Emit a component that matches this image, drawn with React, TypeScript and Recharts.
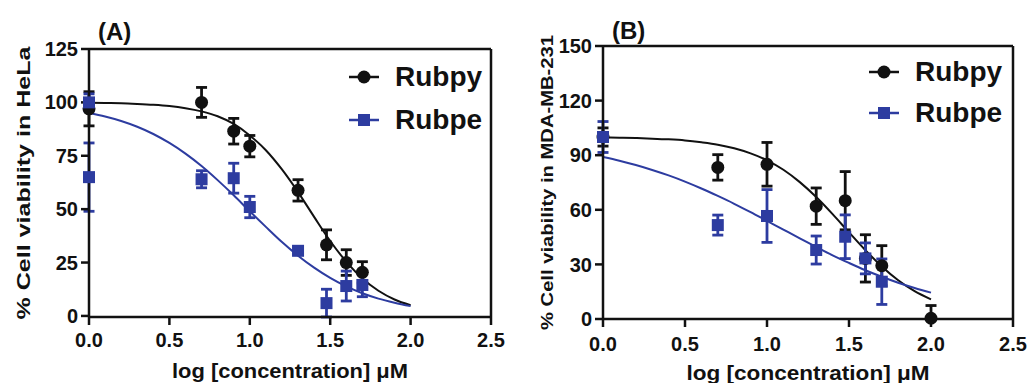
import React from 'react';
import { ComposedChart, Line, Scatter, XAxis, YAxis, ErrorBar, ReferenceLine, Legend } from 'recharts';

const BLUE = '#2d3ca0';
const BLACK = '#111111';
const FONT = "'Liberation Sans', Arial, Helvetica, sans-serif";

const seriesNames = ['Rubpy', 'Rubpe'];
const xTicks = [0, 0.5, 1.0, 1.5, 2.0, 2.5];
const yTicksA = [0, 25, 50, 75, 100, 125];
const yTicksB = [0, 30, 60, 90, 120, 150];

// fitted curve readings
const curveX = [0, 0.1, 0.2, 0.3, 0.4, 0.5, 0.6, 0.7, 0.8, 0.9, 1.0, 1.1, 1.2, 1.3, 1.4, 1.5, 1.6, 1.7, 1.8, 1.9, 2.0];
const fitRubpyA = [99.8, 99.7, 99.6, 99.3, 98.9, 98.3, 97.3, 95.8, 93.5, 89.9, 84.5, 77.6, 68.6, 58.0, 46.4, 35.1, 25.4, 17.5, 11.8, 7.7, 5.0];
const fitRubpeA = [95.0, 93.4, 91.3, 88.6, 85.2, 81.0, 76.0, 70.2, 63.6, 56.5, 49.0, 41.7, 34.6, 28.2, 22.6, 17.8, 13.8, 10.6, 8.1, 6.2, 4.6];
const fitRubpyB = [99.7, 99.6, 99.4, 99.1, 98.7, 98.1, 97.1, 95.8, 93.8, 91.0, 87.2, 82.0, 75.2, 67.0, 57.6, 47.6, 37.8, 28.9, 21.3, 15.3, 10.8];
const fitRubpeB = [89.0, 87.0, 84.6, 81.9, 78.9, 75.5, 71.7, 67.6, 63.3, 58.7, 53.9, 49.1, 44.3, 39.6, 35.0, 30.8, 26.8, 23.2, 19.9, 17.0, 14.5];

// measured points, panel A (HeLa)
const rubpyAX = [0, 0.7, 0.9, 1.0, 1.3, 1.477, 1.6, 1.7];
const rubpyAY = [97, 100, 86.5, 79.5, 58.8, 33.3, 25, 20.4];
const rubpyAErr = [8, 7, 6, 5, 5, 7, 6, 5];
const rubpeAX = [0, 0, 0.7, 0.9, 1.0, 1.3, 1.477, 1.6, 1.7];
const rubpeAY = [100, 65, 64, 64.5, 51, 30.5, 6, 14, 14.5];
const rubpeAErr = [4, 16, 4, 7, 5, 1.5, 6.5, 7, 5.5];

// measured points, panel B (MDA-MB-231)
const rubpyBX = [0, 0.7, 1.0, 1.3, 1.477, 1.6, 1.7, 2.0];
const rubpyBY = [100, 83.3, 85, 62, 65, 33.3, 29.3, 0.4];
const rubpyBErrLow = [5, 7, 12, 10, 16, 13, 11, 0.4];
const rubpyBErrHigh = [5, 7, 12, 10, 16, 13, 11, 7];
const rubpeBX = [0, 0.7, 1.0, 1.3, 1.477, 1.6, 1.7];
const rubpeBY = [100, 51.6, 56.6, 37.9, 45.2, 33.3, 20.5];
const rubpeBErr = [8.5, 5.5, 14.5, 7.7, 12, 8.5, 12.5];

const curve = (ys: number[]) => curveX.map((x, i) => ({ x, y: ys[i] }));
const pts = (xs: number[], ys: number[], lo: number[], hi?: number[]) =>
  xs.map((x, i) => ({ x, y: ys[i], err: hi ? [lo[i], hi[i]] : lo[i] }));

const CircleShape = (p: any) => <circle cx={p.cx} cy={p.cy} r={6.5} fill={BLACK} />;
const SquareShape = (p: any) => <rect x={p.cx - 6} y={p.cy - 6} width={12} height={12} fill={BLUE} />;

const tickStyle = { fill: BLACK, fontSize: 20, fontWeight: 700, fontFamily: FONT };

const yLabel = (text: string, dx: number, fontSize: number, len: number) => (props: any) => {
  const vb = props.viewBox;
  if (!vb) return null;
  const cx = vb.x + dx;
  const cy = vb.y + vb.height / 2;
  return (
    <text x={cx} y={cy} transform={`rotate(-90, ${cx}, ${cy})`} textAnchor="middle" dominantBaseline="central"
      textLength={len} lengthAdjust="spacingAndGlyphs"
      fill={BLACK} fontSize={fontSize} fontWeight={700} fontFamily={FONT}>{text}</text>
  );
};

const xLabel = (text: string, dy: number, len: number) => (props: any) => {
  const vb = props.viewBox;
  if (!vb) return null;
  return (
    <text x={vb.x + vb.width / 2} y={vb.y + dy} textAnchor="middle" textLength={len} lengthAdjust="spacingAndGlyphs"
      fill={BLACK} fontSize={20} fontWeight={700} fontFamily={FONT}>
      {text}
    </text>
  );
};

const legendContent = (rowH: number) => () => (
  <div style={{ fontFamily: FONT, fontWeight: 700, fontSize: 28, color: BLACK }}>
    {seriesNames.map((n, i) => (
      <div key={n} style={{ display: 'flex', alignItems: 'center', height: rowH }}>
        <svg width={32} height={16} style={{ marginRight: 15 }}>
          <line x1={1} y1={8} x2={31} y2={8} stroke={i === 0 ? BLACK : BLUE} strokeWidth={2.5} />
          {i === 0 ? <circle cx={16} cy={8} r={6.5} fill={BLACK} /> : <rect x={10} y={2} width={12} height={12} fill={BLUE} />}
        </svg>
        <span style={{ lineHeight: `${rowH}px` }}>{n}</span>
      </div>
    ))}
  </div>
);

const axisLine = { stroke: BLACK, strokeWidth: 2.5 };
const tickLine = { stroke: BLACK, strokeWidth: 2.5 };

export default function App() {
  return (
    <div style={{ position: 'absolute', left: 0, top: 0, width: 1029, height: 383, background: '#fff', overflow: 'hidden' }}>
      <div style={{ position: 'absolute', left: 0, top: 0 }}>
        <ComposedChart width={520} height={383} margin={{ top: 49, right: 29, left: 5, bottom: 5 }}>
          <XAxis type="number" dataKey="x" domain={[0, 2.5]} ticks={xTicks} tickFormatter={(v: number) => v.toFixed(1)}
            height={61} tick={tickStyle} tickSize={8} tickMargin={8} axisLine={axisLine} tickLine={tickLine}
            label={{ content: xLabel('log [concentration] μM', 61, 236) }} />
          <YAxis type="number" dataKey="y" domain={[0, 125]} ticks={yTicksA} width={84} tick={tickStyle} tickSize={8}
            tickMargin={3} axisLine={axisLine} tickLine={tickLine} interval={0}
            label={{ content: yLabel('% Cell viability in HeLa', 18, 19, 273) }} />
          <ReferenceLine y={125} stroke={BLACK} strokeWidth={2.5} />
          <ReferenceLine x={2.5} stroke={BLACK} strokeWidth={2.5} />
          <Line data={curve(fitRubpyA)} dataKey="y" type="monotone" stroke={BLACK} strokeWidth={2} dot={false} isAnimationActive={false} />
          <Line data={curve(fitRubpeA)} dataKey="y" type="monotone" stroke={BLUE} strokeWidth={2} dot={false} isAnimationActive={false} />
          <Scatter data={pts(rubpyAX, rubpyAY, rubpyAErr)} shape={CircleShape} isAnimationActive={false}>
            <ErrorBar dataKey="err" direction="y" width={5.5} stroke={BLACK} strokeWidth={2.8} />
          </Scatter>
          <Scatter data={pts(rubpeAX, rubpeAY, rubpeAErr)} shape={SquareShape} isAnimationActive={false}>
            <ErrorBar dataKey="err" direction="y" width={5.5} stroke={BLUE} strokeWidth={2.8} />
          </Scatter>
          <Legend layout="vertical" align="center" verticalAlign="middle" content={legendContent(43)}
            wrapperStyle={{ left: 348, top: 55, width: 160, height: 90 }} />
        </ComposedChart>
        <div style={{ position: 'absolute', left: 98, top: 18, fontFamily: FONT, fontWeight: 700, fontSize: 24, lineHeight: '28px', color: BLACK }}>(A)</div>
      </div>
      <div style={{ position: 'absolute', left: 520, top: 0 }}>
        <ComposedChart width={509} height={383} margin={{ top: 46, right: 16, left: 5, bottom: 3 }}>
          <XAxis type="number" dataKey="x" domain={[0, 2.5]} ticks={xTicks} tickFormatter={(v: number) => v.toFixed(1)}
            height={61} tick={tickStyle} tickSize={8} tickMargin={10} axisLine={axisLine} tickLine={tickLine}
            label={{ content: xLabel('log [concentration] μM', 61, 243) }} />
          <YAxis type="number" dataKey="y" domain={[0, 150]} ticks={yTicksB} width={78} tick={tickStyle} tickSize={8}
            tickMargin={3} axisLine={axisLine} tickLine={tickLine} interval={0}
            label={{ content: yLabel('% Cell viability in MDA-MB-231', 22, 16.5, 295) }} />
          <ReferenceLine y={150} stroke={BLACK} strokeWidth={2.5} />
          <ReferenceLine x={2.5} stroke={BLACK} strokeWidth={2.5} />
          <Line data={curve(fitRubpyB)} dataKey="y" type="monotone" stroke={BLACK} strokeWidth={2} dot={false} isAnimationActive={false} />
          <Line data={curve(fitRubpeB)} dataKey="y" type="monotone" stroke={BLUE} strokeWidth={2} dot={false} isAnimationActive={false} />
          <Scatter data={pts(rubpyBX, rubpyBY, rubpyBErrLow, rubpyBErrHigh)} shape={CircleShape} isAnimationActive={false}>
            <ErrorBar dataKey="err" direction="y" width={5.5} stroke={BLACK} strokeWidth={2.8} />
          </Scatter>
          <Scatter data={pts(rubpeBX, rubpeBY, rubpeBErr)} shape={SquareShape} isAnimationActive={false}>
            <ErrorBar dataKey="err" direction="y" width={5.5} stroke={BLUE} strokeWidth={2.8} />
          </Scatter>
          <Legend layout="vertical" align="center" verticalAlign="middle" content={legendContent(41)}
            wrapperStyle={{ left: 348, top: 51, width: 160, height: 90 }} />
        </ComposedChart>
        <div style={{ position: 'absolute', left: 92, top: 17, fontFamily: FONT, fontWeight: 700, fontSize: 24, lineHeight: '28px', color: BLACK }}>(B)</div>
      </div>
    </div>
  );
}
